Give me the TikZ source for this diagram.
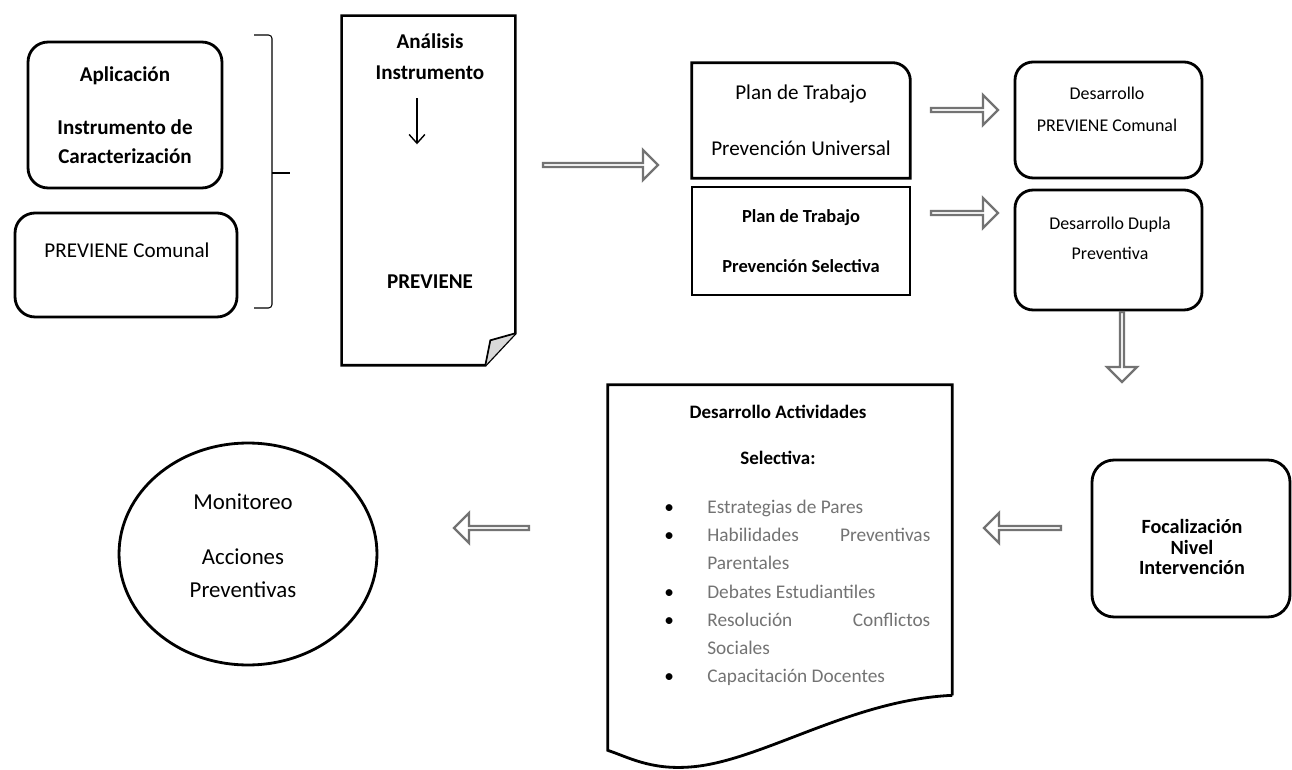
\documentclass[tikz,border=0pt]{standalone}
\usepackage{fontspec}
\setmainfont{Carlito}
\usetikzlibrary{shapes.geometric, shapes.arrows, calc, arrows.meta}
\setlength{\parindent}{0pt}
\hyphenpenalty=10000
\exhyphenpenalty=10000
\newcommand{\bul}{\leavevmode\llap{\textcolor{black}{\textbullet}\hspace{19pt}}}

\tikzset{
  box/.style={draw, line width=1.6pt, rounded corners=0.4cm, inner sep=0pt},
  sqbox/.style={draw, line width=1.6pt, inner sep=0pt},
  txt/.style={align=center, inner sep=0pt},
  blockarrow/.style={single arrow, draw=black!55, line width=1.3pt, fill=white,
    minimum width=0.6cm, single arrow head extend=0.15cm, inner sep=0pt},
}

\begin{document}
\begin{tikzpicture}[x=0.02cm, y=-0.02cm, >={Straight Barb[length=5pt, width=9pt]}]
\useasboundingbox (0,0) rectangle (1292,770);

    % Left column
    \node[box, minimum width=3.88cm, minimum height=2.92cm, align=center,
      font=\fontsize{12}{16.5}\selectfont\bfseries] (aplic) at (125,115)
      {Aplicación\\[13.7pt]Instrumento de\\Caracterización};
    \node[box, minimum width=4.44cm, minimum height=2.08cm] (comunal) at (126,265) {};
    \node[txt, font=\fontsize{12}{14}\selectfont] (comunaltxt) at (127,250) {PREVIENE Comunal};

    % Brace
    \draw[line width=0.6pt, rounded corners=2pt] (254,35) -- (272,35) -- (272,308) -- (254,308);
    \coordinate (bracetip) at (290,173);
    \draw[line width=1pt] (272,173) -- (bracetip);

    % Document: analisis
    \node[minimum width=3.46cm, minimum height=6.98cm, inner sep=0pt] (analisis) at (428.5,190.5) {};
    \draw[line width=1.5pt] (analisis.north west) -- (analisis.north east)
      -- ($(analisis.south east)+(0,-32)$) -- ($(analisis.south east)+(-30,0)$)
      -- (analisis.south west) -- cycle;
    \draw[line width=1pt, fill=black!15] ($(analisis.south east)+(0,-32)$)
      -- ($(analisis.south east)+(-25,-25)$) -- ($(analisis.south east)+(-30,0)$);
    \node[txt, font=\fontsize{12}{14}\selectfont\bfseries] (analisistit) at (430,57) {Análisis\\[3.6pt]Instrumento};
    \node[txt, font=\fontsize{12}{14}\selectfont\bfseries] (previene) at (430,282) {PREVIENE};
    \draw[->, line width=0.8pt] ($(analisistit.south)+(-13,18)$) -- ++(0,46);

    \node[blockarrow, minimum height=2.3cm] (arr1) at (599.5,165) {};

    % Work plans
    \node[minimum width=4.36cm, minimum height=2.3cm, inner sep=0pt, align=center,
      font=\fontsize{12}{14}\selectfont] (universal) at (801,120.5)
      {Plan de Trabajo\\[18pt]Prevención Universal};
    \draw[line width=1.6pt] (universal.south west) -- (universal.north west)
      -- ($(universal.north east)+(-18,0)$) arc[start angle=90, end angle=0, radius=0.36cm]
      -- (universal.south east) -- cycle;
    \node[sqbox, minimum width=4.36cm, minimum height=2.16cm, align=center,
      font=\fontsize{10.5}{13}\selectfont\bfseries] (selectiva) at (801,241)
      {Plan de Trabajo\\[15.5pt]Prevención Selectiva};

    \node[blockarrow, minimum height=1.34cm] (arr2) at (963.5,110) {};
    \node[blockarrow, minimum height=1.34cm] (arr3) at (963.5,213) {};

    % Right column
    \node[box, rounded corners=0.36cm, minimum width=3.74cm, minimum height=2.32cm] (desprev) at (1108.5,120) {};
    \node[txt, font=\fontsize{10.2}{18.2}\selectfont] (desprevtxt) at (1107,109) {Desarrollo\\PREVIENE Comunal};
    \node[box, rounded corners=0.36cm, minimum width=3.74cm, minimum height=2.4cm] (dupla) at (1108.5,250) {};
    \node[txt, font=\fontsize{10.2}{17}\selectfont] (duplatxt) at (1110,238) {Desarrollo Dupla\\Preventiva};

    \node[blockarrow, minimum height=1.4cm, shape border rotate=270] (arr4) at (1122,346) {};

    \node[box, rounded corners=0.44cm, minimum width=3.96cm, minimum height=3.14cm] (focal) at (1191,538.5) {};
    \node[txt, font=\fontsize{11.5}{11.6}\selectfont\bfseries] (focaltxt) at (1192,547) {Focalización\\Nivel\\Intervención};

    \node[blockarrow, minimum height=1.54cm, shape border rotate=180] (arr5) at (1023.5,528) {};

    % Document: actividades
    \node[minimum width=6.88cm, minimum height=6.2cm, inner sep=0pt] (actividades) at (780,540) {};
    \draw[line width=1.6pt] (actividades.south east) -- (actividades.north east)
      -- (actividades.north west) -- ($(actividades.south west)+(0,55)$)
      .. controls (628,757) and (650,770) .. (690,767)
      .. controls (760,762) and (850,700) .. (actividades.south east);
    \node[txt, font=\fontsize{10.8}{13}\selectfont\bfseries] (actitit) at (778,435) {Desarrollo Actividades\\[13pt]Selectiva:};
    \node[anchor=north west, inner sep=0pt, text width=4.46cm, align=justify, text=black!55,
      font=\fontsize{11}{16}\selectfont] (items) at (707,500)
      {\bul Estrategias de Pares\par
       \bul Habilidades Preventivas Parentales\par
       \bul Debates Estudiantiles\par
       \bul Resolución Conflictos Sociales\par
       \bul Capacitación Docentes};

    \node[blockarrow, minimum height=1.5cm, shape border rotate=180] (arr6) at (492.5,528) {};

    % Monitoring
    \node[ellipse, draw, line width=1.6pt, minimum width=5.16cm, minimum height=4.44cm] (monitoreo) at (248,554) {};
    \node[txt, font=\fontsize{13}{18.8}\selectfont] (monitxt) at (243,546) {Monitoreo\\[12.5pt]Acciones\\Preventivas};
\end{tikzpicture}
\end{document}
